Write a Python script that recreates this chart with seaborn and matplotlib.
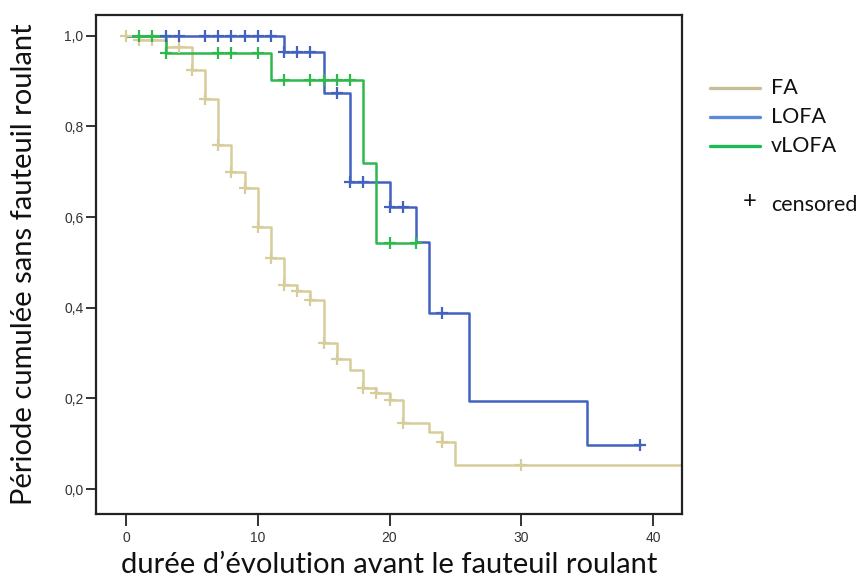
import matplotlib
matplotlib.use("Agg")
import matplotlib.pyplot as plt
from matplotlib.lines import Line2D
import seaborn as sns
import pandas as pd

# ---- data ----
groups = ["FA", "LOFA", "vLOFA"]

fa_t = [0, 1, 3, 5, 6, 7, 8, 9, 10, 11, 12, 13, 14, 15, 16, 17, 18, 19, 20, 21, 23, 24, 25, 45]
fa_s = [1.0, 0.99, 0.975, 0.925, 0.86, 0.76, 0.70, 0.664, 0.578, 0.51, 0.45, 0.438, 0.418,
        0.323, 0.288, 0.263, 0.224, 0.212, 0.197, 0.146, 0.126, 0.104, 0.053, 0.053]
fa_ct = [0, 1, 2, 4, 5, 6, 7, 8, 9, 10, 11, 12, 13, 14, 15, 16, 18, 19, 20, 21, 24, 30]
fa_cs = [1.0, 0.99, 0.99, 0.975, 0.925, 0.86, 0.76, 0.70, 0.664, 0.578, 0.51, 0.45, 0.438,
         0.418, 0.323, 0.288, 0.224, 0.212, 0.197, 0.146, 0.104, 0.053]

lofa_t = [0, 12, 15, 17, 20, 22, 23, 26, 35, 39]
lofa_s = [1.0, 0.965, 0.874, 0.677, 0.622, 0.545, 0.389, 0.195, 0.097, 0.097]
lofa_ct = [3, 4, 6, 7, 8, 9, 10, 11, 12, 13, 14, 16, 17, 18, 20, 21, 24, 39]
lofa_cs = [1.0, 1.0, 1.0, 1.0, 1.0, 1.0, 1.0, 1.0, 0.965, 0.965, 0.965, 0.874, 0.677, 0.677,
           0.622, 0.622, 0.389, 0.097]

vlofa_t = [0, 3, 11, 18, 19, 22]
vlofa_s = [1.0, 0.962, 0.903, 0.719, 0.542, 0.542]
vlofa_ct = [1, 2, 3, 7, 8, 10, 12, 14, 15, 16, 17, 20, 22]
vlofa_cs = [1.0, 1.0, 0.962, 0.962, 0.962, 0.962, 0.903, 0.903, 0.903, 0.903, 0.903, 0.542, 0.542]

x_ticks = [0, 10, 20, 30, 40]
y_ticks = [0.0, 0.2, 0.4, 0.6, 0.8, 1.0]
y_ticklabels = ["0,0", "0,2", "0,4", "0,6", "0,8", "1,0"]

x_label = "durée d\u2019évolution avant le fauteuil roulant"
y_label = "Période cumulée sans fauteuil roulant"

line_colors = {"FA": "#d6cd9b", "LOFA": "#4262c0", "vLOFA": "#2fb84c"}
legend_colors = {"FA": "#c6be98", "LOFA": "#5a8bd6", "vLOFA": "#1db954"}

# ---- tables ----
curves = pd.concat([
    pd.DataFrame({"t": fa_t, "s": fa_s, "g": "FA"}),
    pd.DataFrame({"t": lofa_t, "s": lofa_s, "g": "LOFA"}),
    pd.DataFrame({"t": vlofa_t, "s": vlofa_s, "g": "vLOFA"}),
], ignore_index=True)
cens = pd.concat([
    pd.DataFrame({"t": fa_ct, "s": fa_cs, "g": "FA"}),
    pd.DataFrame({"t": lofa_ct, "s": lofa_cs, "g": "LOFA"}),
    pd.DataFrame({"t": vlofa_ct, "s": vlofa_cs, "g": "vLOFA"}),
], ignore_index=True)

sns.set_style("white")
plt.rcParams["font.family"] = ["Liberation Sans", "DejaVu Sans"]

W, H = 863, 577
fig = plt.figure(figsize=(W / 100, H / 100), dpi=100)
ax_l, ax_r, ax_t, ax_b = 96, 682, 15, 513.5
ax = fig.add_axes([ax_l / W, 1 - ax_b / H, (ax_r - ax_l) / W, (ax_b - ax_t) / H])

for g in groups:
    sub = curves[curves.g == g]
    sns.lineplot(data=sub, x="t", y="s", color=line_colors[g], drawstyle="steps-post",
                 estimator=None, sort=False, lw=1.8, ax=ax, legend=False)
    csub = cens[cens.g == g]
    sns.scatterplot(data=csub, x="t", y="s", color=line_colors[g], marker="+", s=70,
                    linewidth=1.6, ax=ax, legend=False, zorder=3)

ax.set_xlim(-2.28, 42.2)
ax.set_ylim(-0.054, 1.046)
ax.set_xticks(x_ticks)
ax.set_xticklabels([str(v) for v in x_ticks])
ax.set_yticks(y_ticks)
ax.set_yticklabels(y_ticklabels)
ax.tick_params(axis="x", direction="out", length=8.5, width=1.4, color="#333333",
               labelsize=10, labelcolor="#333333", bottom=True, pad=4)
ax.tick_params(axis="y", direction="out", length=7, width=1.4, color="#333333",
               labelsize=10, labelcolor="#333333", left=True, pad=2)
for sp in ax.spines.values():
    sp.set_color("#222222")
    sp.set_linewidth(1.6)

lab_font = ["Lato", "DejaVu Sans"]
ax.set_xlabel(x_label, fontsize=21, family=lab_font, color="#111111")
ax.xaxis.label.set_va("baseline")
ax.xaxis.set_label_coords(0.5, -(573 - ax_b) / (ax_b - ax_t))
ax.set_ylabel(y_label, fontsize=21, family=lab_font, color="#111111")
ax.yaxis.label.set_va("baseline")
ax.yaxis.set_label_coords(-(ax_l - 32) / (ax_r - ax_l), 0.5)

# ---- legend drawn in figure pixels ----
def fx(px):
    return px / W
def fy(py):
    return 1 - py / H

ys = {"FA": 88, "LOFA": 117, "vLOFA": 146}
for g in groups:
    fig.add_artist(Line2D([fx(710), fx(760)], [fy(ys[g]), fy(ys[g])], color=legend_colors[g], lw=2.4))
    fig.text(fx(771), fy(ys[g]), g, fontsize=15.5, family=lab_font,
             va="center", ha="left", color="#111111")
fig.text(fx(750), fy(202), "+", fontsize=17, family=lab_font,
         va="center", ha="center", color="#111111")
fig.text(fx(771), fy(205), "censored", fontsize=15.5, family=lab_font,
         va="center", ha="left", color="#111111")

fig.savefig("out.png", dpi=100)
